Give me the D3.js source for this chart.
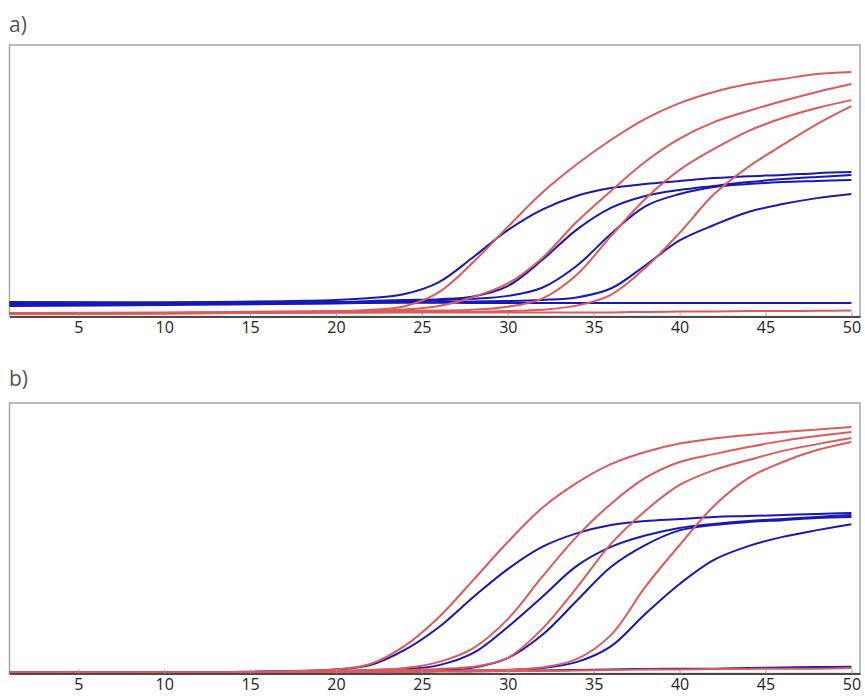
<!DOCTYPE html>
<html><head><meta charset="UTF-8">
<style>
body { margin: 0; background: #fff; }
.frame { fill: none; stroke: #a6a6a6; stroke-width: 1.5; }
.curve { fill: none; stroke-width: 2; stroke-linejoin: round; }
.blue { stroke: #1818b4; }
.red { stroke: #dd5a5a; }
.panel-label { font-family: "Open Sans", sans-serif; font-size: 21px; fill: #555; }
.axis text { font-family: "Open Sans", sans-serif; font-size: 16px; fill: #222; }
.axis .domain { stroke: #4a4a4a; stroke-width: 2; }
.axis .tick line { stroke: #999; }
</style>
<script src="https://cdn.jsdelivr.net/npm/d3@7/dist/d3.min.js"></script>
</head><body>
<div id="chart"></div>
<script>
var cycles = [1, 10, 20, 22, 24, 26, 28, 30, 32, 34, 36, 38, 40, 42, 44, 46, 48, 50];
var tickValues = [5, 10, 15, 20, 25, 30, 35, 40, 45, 50];
var panelLabels = ["a)", "b)"];

// panel a) fluorescence, % of plot height
var aBlue1 = [5.0, 5.2, 6.1, 6.8, 8.3, 12.7, 21.9, 31.8, 39.4, 44.4, 47.3, 48.8, 49.9, 51.0, 51.7, 52.1, 52.8, 53.2];
var aBlue2 = [4.6, 5.0, 5.3, 5.7, 6.1, 6.4, 7.4, 11.2, 20.8, 31.9, 40.0, 44.4, 46.6, 48.1, 49.5, 50.6, 51.4, 52.1];
var aBlue3 = [4.2, 4.6, 5.0, 5.3, 5.7, 6.1, 6.5, 7.6, 10.6, 18.6, 30.4, 40.6, 45.1, 47.7, 48.8, 49.5, 49.9, 50.3];
var aBlue4 = [3.9, 4.2, 4.8, 5.0, 5.3, 5.3, 5.5, 5.7, 6.1, 7.0, 10.3, 18.8, 28.0, 33.7, 38.5, 41.4, 43.6, 45.1];
var aBlue5 = [5.3, 5.2, 5.2, 5.1, 5.1, 5.1, 5.0, 5.0, 5.0, 5.0, 5.0, 5.0, 5.0, 5.0, 5.0, 5.0, 5.0, 5.0];
var aRed1 = [1.3, 1.5, 2.0, 2.4, 3.8, 9.0, 20.1, 33.0, 45.6, 56.0, 65.0, 72.8, 78.6, 82.7, 85.6, 87.5, 89.3, 90.1];
var aRed2 = [1.1, 1.3, 1.8, 2.2, 2.6, 3.9, 7.2, 12.2, 21.5, 34.8, 46.2, 57.0, 65.5, 71.6, 75.7, 79.4, 82.7, 85.6];
var aRed3 = [0.9, 1.1, 1.7, 1.8, 2.0, 2.2, 2.5, 3.6, 6.6, 15.3, 29.6, 43.3, 54.0, 61.7, 68.3, 73.1, 76.8, 79.7];
var aRed4 = [0.9, 1.1, 1.5, 1.5, 1.7, 1.7, 1.7, 2.0, 2.5, 4.0, 8.0, 17.9, 30.8, 45.0, 55.1, 63.2, 70.9, 77.5];
var aRed5 = [1.1, 1.3, 1.5, 1.5, 1.5, 1.5, 1.5, 1.5, 1.5, 1.5, 1.5, 1.7, 1.8, 1.8, 2.0, 2.0, 2.1, 2.2];

// panel b)
var bBlue1 = [0.4, 0.4, 1.5, 3.1, 8.7, 17.2, 28.3, 38.6, 46.8, 51.8, 54.9, 56.4, 57.1, 57.9, 58.2, 58.6, 59.0, 59.3];
var bBlue2 = [0.4, 0.4, 0.9, 1.3, 1.6, 3.1, 7.6, 17.2, 28.3, 39.7, 46.8, 51.0, 53.8, 55.3, 56.4, 57.1, 57.9, 58.6];
var bBlue3 = [0.4, 0.4, 0.6, 0.9, 1.1, 1.3, 2.2, 5.7, 14.2, 26.8, 39.4, 47.5, 52.9, 54.9, 56.0, 56.7, 57.5, 57.9];
var bBlue4 = [0.4, 0.4, 0.6, 0.6, 0.7, 0.9, 1.1, 1.3, 2.0, 4.2, 10.0, 22.0, 33.1, 42.0, 47.1, 50.5, 53.0, 55.2];
var bBlue5 = [0.4, 0.4, 0.6, 0.7, 0.7, 0.9, 0.9, 1.1, 1.1, 1.3, 1.5, 1.7, 1.8, 1.8, 2.0, 2.2, 2.4, 2.5];
var bRed1 = [0.4, 0.4, 1.5, 3.5, 10.2, 20.9, 34.6, 48.6, 61.2, 70.4, 77.4, 81.9, 85.0, 86.9, 88.2, 89.3, 90.2, 91.1];
var bRed2 = [0.4, 0.4, 0.9, 1.3, 2.0, 4.3, 9.4, 20.1, 35.7, 50.5, 62.7, 72.3, 78.2, 81.1, 83.7, 86.0, 87.8, 89.3];
var bRed3 = [0.4, 0.4, 0.6, 0.9, 1.3, 1.7, 2.5, 5.8, 16.5, 31.6, 47.9, 60.1, 69.7, 75.2, 78.9, 82.3, 84.8, 87.1];
var bRed4 = [0.4, 0.4, 0.6, 0.6, 0.7, 0.9, 1.1, 1.4, 2.2, 5.3, 14.2, 32.0, 47.5, 61.9, 72.2, 78.2, 82.6, 85.6];
var bRed5 = [0.4, 0.4, 0.4, 0.6, 0.6, 0.7, 0.7, 0.9, 0.9, 1.1, 1.3, 1.5, 1.5, 1.7, 1.7, 1.8, 1.8, 2.0];

var panels = [
  { label: panelLabels[0], top: 45, bottom: 316.5, labelY: 32,
    blue: [aBlue1, aBlue2, aBlue3, aBlue4, aBlue5],
    red: [aRed1, aRed2, aRed3, aRed4, aRed5] },
  { label: panelLabels[1], top: 403, bottom: 673.5, labelY: 386,
    blue: [bBlue1, bBlue2, bBlue3, bBlue4, bBlue5],
    red: [bRed1, bRed2, bRed3, bRed4, bRed5] }
];

var width = 865, height = 699;
var left = 9.5, right = 860;

var svg = d3.select("#chart").append("svg")
    .attr("width", width)
    .attr("height", height);

var x = d3.scaleLinear().domain([1, 50.5]).range([left, right]);

panels.forEach(function(p) {
  var y = d3.scaleLinear().domain([0, 100]).range([p.bottom, p.top]);

  svg.append("text")
      .attr("class", "panel-label")
      .attr("x", 9)
      .attr("y", p.labelY)
      .text(p.label);

  svg.append("rect")
      .attr("class", "frame")
      .attr("x", left)
      .attr("y", p.top)
      .attr("width", right - left)
      .attr("height", p.bottom - p.top);

  var line = d3.line()
      .x(function(d, i) { return x(cycles[i]); })
      .y(function(d) { return y(d); })
      .curve(d3.curveCatmullRom.alpha(0.5));

  var g = svg.append("g");
  g.selectAll(".blue")
      .data(p.blue)
      .enter().append("path")
      .attr("class", "curve blue")
      .attr("d", line);
  g.selectAll(".red")
      .data(p.red)
      .enter().append("path")
      .attr("class", "curve red")
      .attr("d", line);

  svg.append("g")
      .attr("class", "axis")
      .attr("transform", "translate(0," + p.bottom + ")")
      .call(d3.axisBottom(x)
        .tickValues(tickValues)
        .tickSizeInner(-4)
        .tickSizeOuter(0)
        .tickPadding(5));
});
</script>
</body></html>
